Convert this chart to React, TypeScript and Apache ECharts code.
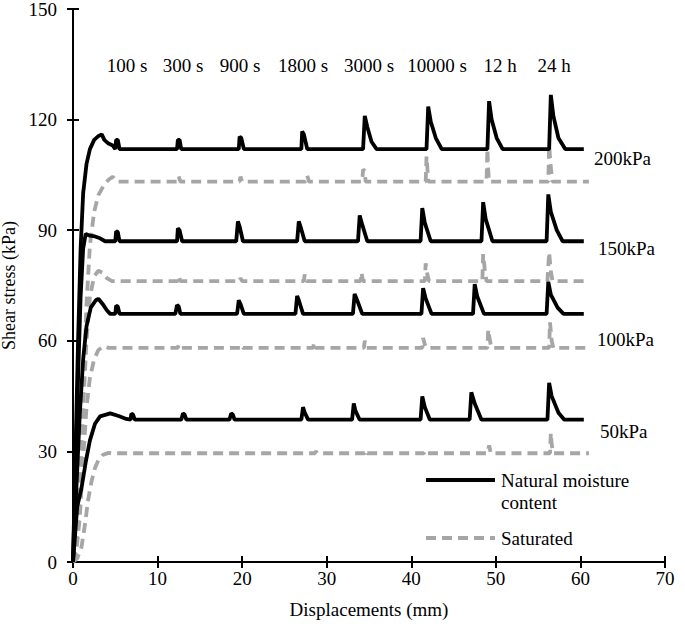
import React, { useEffect, useRef } from "react";
import * as echarts from "echarts";

const natural200: number[][] = [
  [0, 0], [0.3, 30], [0.6, 60], [0.9, 85], [1.2, 100], [1.6, 108], [2.0, 112], [2.5, 114.5], [3.0, 115.5], [3.4, 116], [3.7, 114.5], [4.2, 113.5], [4.7, 113], [5.0, 112],
  [5.1, 114.5], [5.3, 114.5], [5.5, 112],
  [12.3, 112], [12.4, 114.5], [12.6, 114.5], [12.8, 112],
  [19.6, 112], [19.7, 115.4], [19.9, 115], [20.2, 112],
  [27.0, 112], [27.1, 116.8], [27.3, 116], [27.7, 112],
  [34.3, 112], [34.5, 121], [34.8, 118], [35.3, 114], [35.9, 112],
  [41.8, 112], [42.0, 123.5], [42.3, 119.5], [42.9, 115], [43.6, 112],
  [49.0, 112], [49.2, 125], [49.5, 120], [50.1, 115], [50.8, 112],
  [56.3, 112], [56.5, 126.7], [56.8, 121], [57.4, 115], [58.2, 112],
  [60.4, 112],
];
const natural150: number[][] = [
  [0, 0], [0.3, 25], [0.6, 50], [0.9, 72], [1.2, 85], [1.5, 89], [2.0, 88.5], [2.6, 88.3], [3.2, 87.8], [3.8, 87], [5.0, 87],
  [5.1, 89.7], [5.3, 89.5], [5.5, 87],
  [12.3, 87], [12.4, 90.5], [12.6, 90], [12.9, 87],
  [19.3, 87], [19.5, 92.4], [19.7, 91], [20.1, 87],
  [26.5, 87], [26.7, 92.4], [26.9, 91], [27.4, 87],
  [33.7, 87], [33.9, 94], [34.2, 91.5], [34.8, 87],
  [41.1, 87], [41.3, 96], [41.6, 92], [42.3, 87],
  [48.3, 87], [48.5, 97.6], [48.8, 93], [49.6, 87],
  [56.0, 87], [56.2, 99.7], [56.5, 95], [57.2, 90], [57.9, 87],
  [60.4, 87],
];
const natural100: number[][] = [
  [0, 0], [0.4, 20], [0.8, 40], [1.2, 55], [1.6, 64], [2.1, 69], [2.7, 71], [3.0, 71.4], [3.5, 70], [4.0, 68.3], [4.4, 67.3], [5.0, 67.3],
  [5.1, 69.5], [5.3, 69.3], [5.5, 67.3],
  [12.1, 67.3], [12.3, 69.7], [12.5, 69.3], [12.7, 67.3],
  [19.4, 67.3], [19.6, 71], [19.8, 70], [20.2, 67.3],
  [26.3, 67.3], [26.5, 72.2], [26.7, 71], [27.2, 67.3],
  [33.1, 67.3], [33.3, 72.7], [33.6, 71], [34.2, 67.3],
  [41.2, 67.3], [41.4, 74.3], [41.7, 71.5], [42.4, 67.3],
  [47.3, 67.3], [47.5, 75.4], [47.8, 72], [48.6, 67.3],
  [56.0, 67.3], [56.2, 76], [56.5, 72.5], [57.3, 69], [58.0, 67.3],
  [60.4, 67.3],
];
const natural50: number[][] = [
  [0, 0], [0.5, 15], [1.0, 20], [1.5, 27], [2.0, 33], [2.6, 37.5], [3.2, 39.5], [4.4, 40.3], [5.4, 39.6], [6.3, 38.8], [6.8, 38.6],
  [6.9, 40.2], [7.1, 40], [7.3, 38.6],
  [12.8, 38.6], [13.0, 40.3], [13.2, 40], [13.4, 38.6],
  [18.5, 38.6], [18.7, 40.3], [18.9, 40], [19.1, 38.6],
  [27.0, 38.6], [27.2, 42], [27.4, 40.5], [27.8, 38.6],
  [33.0, 38.6], [33.2, 43], [33.4, 41], [33.9, 38.6],
  [41.1, 38.6], [41.3, 44.9], [41.6, 42], [42.2, 38.6],
  [46.9, 38.6], [47.1, 46], [47.5, 43], [48.3, 38.6],
  [56.1, 38.6], [56.3, 48.6], [56.6, 45], [57.4, 40.5], [58.1, 38.6],
  [60.4, 38.6],
];

const saturated200: number[][] = [
  [0, 0], [0.4, 5], [0.8, 20], [1.2, 45], [1.6, 70], [2.0, 86], [2.5, 95], [3.0, 99.5], [3.6, 102], [4.2, 103.7], [4.7, 104.5], [5.2, 103.2],
  [12.4, 103.2], [12.5, 104.5], [12.7, 103.2],
  [19.7, 103.2], [19.8, 104.5], [20.0, 103.2],
  [27.5, 103.2], [27.7, 104.8], [27.9, 103.2],
  [34.2, 103.2], [34.3, 106.5], [34.5, 106], [34.6, 103.2],
  [41.7, 103.2], [41.8, 110], [41.9, 107], [42.0, 103.2],
  [48.9, 103.2], [49.0, 112], [49.1, 106], [49.2, 103.2],
  [56.2, 103.2], [56.3, 113], [56.5, 107], [56.7, 103.2],
  [61.0, 103.2],
];
const saturated150: number[][] = [
  [0, 0], [0.4, 5], [0.8, 20], [1.2, 42], [1.6, 60], [2.0, 72], [2.5, 77.5], [3.0, 79], [3.5, 78.5], [4.0, 77], [4.6, 76.2],
  [12.4, 76.2], [12.5, 77.5], [12.7, 76.2],
  [19.7, 76.2], [19.8, 77], [20.0, 76.2],
  [27.3, 76.2], [27.4, 78], [27.6, 76.2],
  [34.0, 76.2], [34.1, 78.5], [34.3, 76.2],
  [41.6, 76.2], [41.7, 81], [41.9, 78], [42.1, 76.2],
  [48.4, 76.2], [48.5, 83.5], [48.7, 79], [48.9, 76.2],
  [56.1, 76.2], [56.3, 84], [56.5, 79], [56.7, 76.2],
  [61.0, 76.2],
];
const saturated100: number[][] = [
  [0, 0], [0.4, 3], [0.8, 12], [1.2, 28], [1.6, 42], [2.0, 50], [2.5, 55], [3.0, 57.5], [3.6, 58.5], [4.2, 58.1],
  [12.4, 58.1], [12.5, 59], [12.7, 58.1],
  [19.8, 58.1], [19.9, 58.8], [20.1, 58.1],
  [28.4, 58.1], [28.5, 59.5], [28.7, 58.1],
  [34.4, 58.1], [34.5, 60], [34.7, 58.1],
  [41.3, 58.1], [41.4, 60.8], [41.6, 59], [41.8, 58.1],
  [49.0, 58.1], [49.1, 63], [49.3, 60], [49.5, 58.1],
  [56.3, 58.1], [56.4, 65], [56.6, 60], [56.8, 58.1],
  [61.0, 58.1],
];
const saturated50: number[][] = [
  [0, 0], [0.5, 1], [1.0, 4], [1.4, 10], [1.8, 17], [2.2, 22], [2.6, 25.5], [3.0, 27.6], [3.5, 29], [4.2, 29.6], [4.6, 29.5],
  [28.6, 29.5], [28.7, 30], [28.9, 29.5],
  [34.5, 29.5], [34.6, 30.3], [34.8, 29.5],
  [41.5, 29.5], [41.6, 30.2], [41.8, 29.5],
  [49.0, 29.5], [49.2, 31.6], [49.4, 29.5],
  [56.4, 29.5], [56.5, 35], [56.6, 32], [56.8, 29.5],
  [61.0, 29.5],
];

const timeLabels = ["100 s", "300 s", "900 s", "1800 s", "3000 s", "10000 s", "12 h", "24 h"];
const timeLabelX = [127, 183, 240, 303, 369, 437, 500, 554];
const pressureLabels = ["200kPa", "150kPa", "100kPa", "50kPa"];
const pressureLabelPos = [[594, 158], [598, 248], [597, 339], [600, 431]];

const FONT = "Liberation Serif";
const BLACK = "#000000";
const GRAY = "#a6a6a6";
const LW = 3.8;

export default function App() {
  const ref = useRef<HTMLDivElement>(null);
  useEffect(() => {
    if (!ref.current) return;
    const chart = echarts.init(ref.current, null, { renderer: "svg" });
    const naturalSets = [natural200, natural150, natural100, natural50];
    const saturatedSets = [saturated200, saturated150, saturated100, saturated50];
    const series: any[] = [];
    saturatedSets.forEach((d, i) => {
      series.push({
        type: "line", name: "Saturated " + i, data: d, showSymbol: false, symbol: "none",
        lineStyle: { color: GRAY, width: LW, type: [10, 6] }, z: 2,
      });
    });
    naturalSets.forEach((d, i) => {
      series.push({
        type: "line", name: "Natural " + i, data: d, showSymbol: false, symbol: "none",
        lineStyle: { color: BLACK, width: LW }, z: 3,
      });
    });
    const txt = (text: string, x: number, y: number, align: string) => ({
      type: "text", x, y,
      style: { text, fontFamily: FONT, fontSize: 19, fill: "#000", align, verticalAlign: "middle" },
    });
    const graphic: any[] = [];
    timeLabels.forEach((t, i) => graphic.push(txt(t, timeLabelX[i], 65, "center")));
    pressureLabels.forEach((t, i) => graphic.push(txt(t, pressureLabelPos[i][0], pressureLabelPos[i][1], "left")));
    // legend
    graphic.push({ type: "line", shape: { x1: 426, y1: 480, x2: 495, y2: 480 }, style: { stroke: BLACK, lineWidth: LW } });
    graphic.push(txt("Natural moisture", 501, 480, "left"));
    graphic.push(txt("content", 501, 502, "left"));
    graphic.push({ type: "line", shape: { x1: 426, y1: 538, x2: 495, y2: 538 }, style: { stroke: GRAY, lineWidth: LW, lineDash: [10, 6] } });
    graphic.push(txt("Saturated", 501, 538, "left"));

    const axisCommon = {
      type: "value" as const,
      axisLine: { show: true, lineStyle: { color: "#000", width: 2 } },
      axisTick: { show: true, inside: true, length: 6, lineStyle: { color: "#000", width: 2 } },
      splitLine: { show: false },
    };
    chart.setOption({
      animation: false,
      textStyle: { fontFamily: FONT },
      grid: { left: 73, right: 20, top: 9, bottom: 75, containLabel: false, outerBoundsMode: "none" },
      xAxis: [
        {
          ...axisCommon, min: 0, max: 70, interval: 10, position: "bottom",
          name: "Displacements (mm)", nameLocation: "middle", nameGap: 38,
          nameTextStyle: { fontFamily: FONT, fontSize: 19, color: "#000" },
          axisLabel: { fontFamily: FONT, fontSize: 19, color: "#000", margin: 7 },
        },
        {
          ...axisCommon, min: 0, max: 70, interval: 10, position: "top",
          axisLabel: { show: false },
        },
      ],
      yAxis: [
        {
          ...axisCommon, min: 0, max: 150, interval: 30, position: "left",
          name: "Shear stress (kPa)", nameLocation: "middle", nameGap: 46,
          nameTextStyle: { fontFamily: FONT, fontSize: 18, color: "#000" },
          axisLabel: { fontFamily: FONT, fontSize: 19, color: "#000", margin: 16 },
        },
        {
          ...axisCommon, min: 0, max: 150, interval: 30, position: "right",
          axisLabel: { show: false },
        },
      ],
      series,
      graphic,
    });
    return () => chart.dispose();
  }, []);
  return <div ref={ref} style={{ position: "absolute", left: 0, top: 0, width: 685, height: 637, background: "#fff" }} />;
}
